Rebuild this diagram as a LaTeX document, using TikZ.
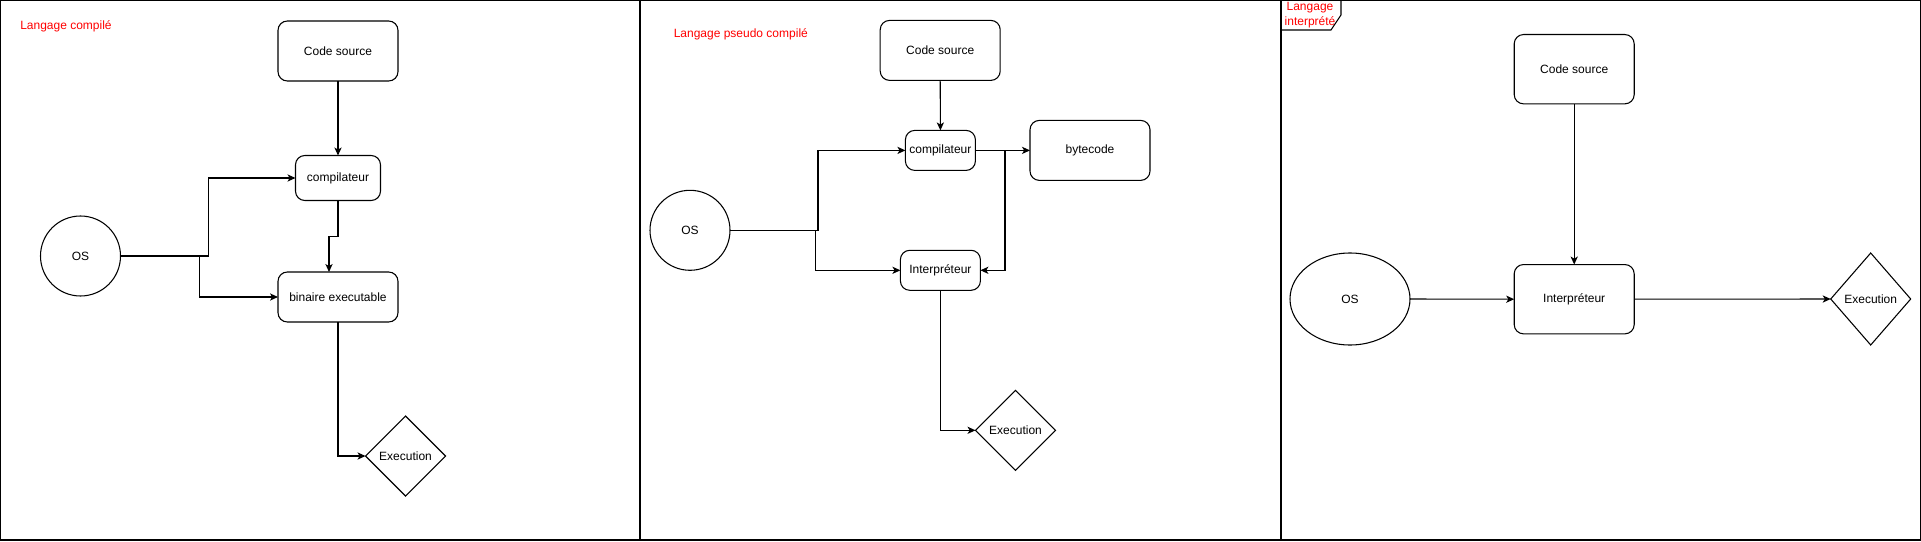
\documentclass[tikz,border=0pt]{standalone}
\usepackage{fontspec}
\setmainfont{Liberation Sans}
\usetikzlibrary{shapes.geometric,arrows.meta}
\tikzset{
  base/.style={draw=black,line width=0.8pt,inner sep=0pt,outer sep=0pt,font=\fontsize{9}{10.8}\selectfont},
  rbox/.style={base,rectangle,rounded corners=7pt},
  oscirc/.style={base,ellipse},
  diam/.style={base,diamond,aspect=1},
  panel/.style={draw=black,line width=0.8pt},
  ttl/.style={text=red,inner sep=0pt,font=\fontsize{9}{11.4}\selectfont},
  arr/.style={draw=black,line width=0.8pt,-{Stealth[length=6pt,width=5.4pt,inset=1.6pt]}}
}
\begin{document}
\begin{tikzpicture}[x=0.75pt,y=-0.75pt]
\useasboundingbox (0,0) rectangle (1921,542);
% ---------- panels
\draw[panel] (0.6,0.6) rectangle (640,540);
\draw[panel] (640,0.6) rectangle (1281,540);
\draw[panel] (1281,0.6) rectangle (1920.2,540);
\draw[panel] (1281,30) -- (1331,30) -- (1341,15) -- (1341,0.6);
% ---------- panel 1
\node[ttl,anchor=west] (t1) at (20,26) {Langage compilé};
\node[rbox,minimum width=90pt,minimum height=45pt] (cs1) at (338,51) {Code source};
\node[rbox,minimum width=63.75pt,minimum height=33.75pt] (co1) at (338,178) {compilateur};
\node[oscirc,minimum width=60pt,minimum height=60pt] (os1) at (80.5,256) {OS};
\node[rbox,minimum width=90pt,minimum height=37.5pt] (be1) at (338,297) {binaire executable};
\node[diam,minimum width=60pt,minimum height=60pt] (ex1) at (405.5,456) {Execution};
\draw[arr] (cs1.south) -- (co1.north);
\draw[arr] (os1.east) -- ++(88,0) |- (co1.west);
\draw[arr] (os1.east) -- ++(79,0) |- (be1.west);
\draw[arr] (co1.south) -- ++(0,36) -| ([xshift=-6.75pt]be1.north);
\draw[arr] (be1.south) |- (ex1.west);
% ---------- panel 2
\node[ttl,anchor=west] (t2) at (673.5,34.6) {Langage pseudo compilé};
\node[rbox,minimum width=90pt,minimum height=45pt] (cs2) at (940.2,50.4) {Code source};
\node[rbox,minimum width=52.5pt,minimum height=30pt] (co2) at (940.4,150.4) {compilateur};
\node[rbox,minimum width=90pt,minimum height=45pt] (by2) at (1090,150.4) {bytecode};
\node[oscirc,minimum width=60pt,minimum height=60pt] (os2) at (690,230.3) {OS};
\node[rbox,minimum width=60pt,minimum height=30pt] (in2) at (940.4,270.3) {Interpréteur};
\node[diam,minimum width=60pt,minimum height=60pt] (ex2) at (1015.5,430.3) {Execution};
\draw[arr] (cs2.south) -- (co2.north);
\draw[arr] (co2.east) -- (by2.west);
\draw[arr] (os2.east) -- ++(88,0) |- (co2.west);
\draw[arr] (os2.east) -- ++(85.5,0) |- (in2.west);
\draw[arr] (co2.east) -- ++(29.6,0) |- (in2.east);
\draw[arr] (in2.south) |- (ex2.west);
% ---------- panel 3
\node[ttl,align=center] (t3) at (1310,15.2) {Langage\\interprété};
\node[rbox,minimum width=90pt,minimum height=52pt] (cs3) at (1574.2,69.2) {Code source};
\node[rbox,minimum width=90pt,minimum height=52pt] (in3) at (1574.2,299.2) {Interpréteur};
\node[oscirc,minimum width=90pt,minimum height=69pt] (os3) at (1350,299) {OS};
\node[diam,minimum width=60pt,minimum height=69pt] (ex3) at (1870.7,299) {Execution};
\draw[arr] (cs3.south) -- (in3.north);
\draw[arr] (os3.east) -- (in3.west);
\draw[arr] (in3.east) -- (ex3.west);
\end{tikzpicture}
\end{document}
